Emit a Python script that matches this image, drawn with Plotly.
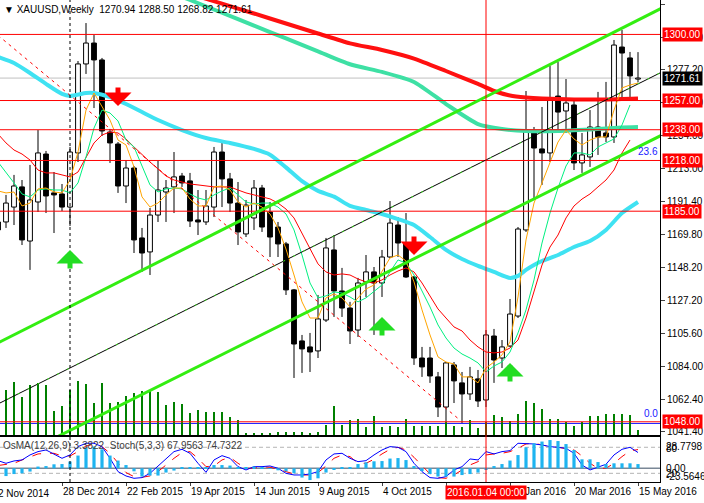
import pandas as pd
import plotly.graph_objects as go

FONT = "Liberation Sans, Arial, sans-serif"

# weekly bars, dated on Sunday like the terminal does
weeks = pd.date_range("2014-11-02", "2016-05-15", freq="7D")
WEEK_MS = 7 * 24 * 3600 * 1000

opens = [1178.0, 1178.0, 1187.7, 1200.8, 1165.6, 1191.0, 1222.2, 1196.9,
         1196.2, 1187.7, 1222.9, 1280.8, 1294.4, 1283.4, 1236.5, 1228.7, 1201.4, 1213.1,
         1167.6, 1158.5, 1182.5, 1197.5, 1200.8, 1207.9, 1204.7, 1179.3, 1178.0, 1187.7,
         1223.5, 1206.0, 1190.3, 1170.2, 1180.6, 1200.1, 1184.5, 1174.7, 1163.7, 1133.8,
         1100.6, 1096.7, 1094.1, 1114.2, 1159.8, 1133.1, 1122.0, 1107.7, 1139.0, 1145.5,
         1138.3, 1155.2, 1176.0, 1164.3, 1142.2, 1089.5, 1089.5, 1077.2, 1057.6, 1085.0,
         1073.3, 1066.1, 1075.9, 1062.2, 1103.8, 1089.5, 1097.3, 1116.8, 1172.8, 1235.9,
         1225.5, 1222.9, 1259.9, 1250.2, 1254.1, 1216.4, 1220.3, 1239.8, 1235.9, 1233.3,
         1291.8, 1284.7, 1270.94]
highs = [1180.6, 1195.6, 1208.6, 1205.3, 1215.1, 1237.8, 1224.2, 1210.5,
         1202.7, 1226.8, 1282.7, 1307.4, 1299.6, 1284.7, 1238.5, 1230.0, 1218.3, 1214.4,
         1174.1, 1187.1, 1218.3, 1205.3, 1223.5, 1209.9, 1209.9, 1198.8, 1198.8, 1226.8,
         1230.0, 1209.9, 1204.0, 1192.3, 1205.3, 1202.1, 1191.0, 1178.0, 1165.0, 1134.4,
         1104.5, 1105.8, 1130.5, 1167.6, 1169.5, 1148.1, 1126.0, 1141.6, 1156.5, 1148.7,
         1159.8, 1191.6, 1181.2, 1183.8, 1142.9, 1096.7, 1096.7, 1080.4, 1086.9, 1086.9,
         1080.4, 1083.7, 1081.7, 1107.7, 1108.4, 1101.2, 1127.9, 1174.7, 1263.2, 1239.8,
         1252.8, 1279.5, 1282.1, 1271.0, 1258.0, 1235.9, 1250.8, 1262.6, 1269.1, 1296.4,
         1302.9, 1288.6, 1288.50]
lows = [1171.5, 1174.1, 1176.0, 1163.0, 1146.8, 1184.5, 1183.8, 1170.8,
        1185.1, 1175.4, 1217.0, 1274.3, 1252.1, 1233.9, 1216.4, 1196.9, 1190.3, 1157.8,
        1145.5, 1143.5, 1178.0, 1178.0, 1183.8, 1200.8, 1174.7, 1169.5, 1176.0, 1181.2,
        1187.7, 1184.5, 1163.0, 1168.2, 1172.8, 1171.5, 1155.2, 1155.2, 1130.5, 1076.5,
        1079.8, 1080.4, 1089.5, 1112.9, 1116.2, 1116.2, 1098.6, 1103.2, 1129.2, 1104.5,
        1129.2, 1154.6, 1155.2, 1141.6, 1085.0, 1077.2, 1073.3, 1051.1, 1047.2, 1060.2,
        1047.2, 1062.2, 1057.6, 1057.6, 1073.3, 1083.0, 1096.7, 1115.5, 1171.5, 1192.3,
        1202.1, 1217.0, 1235.9, 1235.9, 1211.8, 1209.9, 1213.8, 1221.6, 1230.0, 1229.4,
        1257.4, 1257.4, 1268.82]
closes = [1172.8, 1190.3, 1201.4, 1166.3, 1192.3, 1222.9, 1194.9, 1195.6,
          1187.7, 1223.5, 1280.8, 1294.4, 1283.4, 1237.2, 1229.4, 1201.4, 1213.1, 1166.3,
          1157.8, 1182.5, 1198.8, 1200.1, 1207.3, 1203.4, 1178.6, 1178.0, 1188.4, 1223.5,
          1206.0, 1190.3, 1171.5, 1189.0, 1200.1, 1174.7, 1168.2, 1163.7, 1133.8, 1098.6,
          1095.4, 1093.4, 1114.9, 1161.1, 1133.1, 1122.0, 1107.1, 1138.3, 1145.5, 1138.3,
          1155.2, 1177.3, 1164.3, 1142.2, 1089.5, 1083.7, 1077.8, 1057.6, 1086.3, 1074.6,
          1066.1, 1077.2, 1061.5, 1104.5, 1088.2, 1096.7, 1118.1, 1173.4, 1237.8, 1226.1,
          1222.9, 1257.4, 1249.5, 1255.4, 1216.4, 1221.6, 1239.8, 1233.3, 1233.3, 1293.1,
          1287.9, 1273.0, 1271.61]
# tick volume
volumes = [4000, 4500, 5300, 3800, 5000, 5200, 5000, 2400,
           2900, 4500, 5400, 5100, 3200, 5200, 3200, 3300, 3900, 4200,
           4400, 4500, 4300, 3000, 3300, 3100, 2200, 2500, 2300, 2300,
           2300, 1800, 1500, 200, 200, 200, 200, 300, 300, 300,
           300, 200, 300, 1000, 2900, 1000, 1500, 1600, 800, 1900,
           800, 900, 800, 1600, 900, 900, 900, 900, 1300, 900,
           800, 1500, 700, 1300, 2000, 1800, 1400, 2100, 3400, 3200,
           2600, 1600, 1600, 1300, 900, 1300, 1900, 1900, 2100, 2100,
           2100, 2000, 500]

# short moving averages, one value per week
ma_orange = [1198.2, 1196.9, 1197.5, 1188.4, 1190.3, 1199.5, 1200.1, 1197.5,
             1196.9, 1205.3, 1223.5, 1250.8, 1261.9, 1252.8, 1244.3, 1231.3, 1228.1, 1213.8,
             1194.3, 1187.7, 1190.3, 1195.6, 1200.1, 1200.1, 1192.9, 1188.4, 1188.4, 1200.8,
             1201.4, 1198.8, 1191.0, 1187.7, 1190.3, 1187.7, 1183.2, 1174.1, 1160.4, 1143.5,
             1126.0, 1115.5, 1115.5, 1128.6, 1131.2, 1128.6, 1122.7, 1128.6, 1134.4, 1137.0,
             1146.1, 1154.6, 1156.5, 1152.6, 1139.0, 1120.8, 1104.5, 1090.2, 1086.9, 1085.6,
             1077.2, 1077.2, 1073.3, 1083.0, 1086.9, 1091.5, 1099.9, 1129.2, 1166.3, 1190.3,
             1203.4, 1216.4, 1230.0, 1237.8, 1232.0, 1228.1, 1231.3, 1233.3, 1233.3, 1250.8,
             1265.2, 1267.1, 1268.4]
ma_green = [1217.0, 1210.5, 1203.4, 1196.2, 1194.3, 1198.8, 1199.5, 1198.8,
            1198.8, 1196.9, 1203.4, 1220.3, 1239.1, 1250.8, 1248.9, 1243.7, 1231.3, 1226.8,
            1213.8, 1202.1, 1197.5, 1199.5, 1200.1, 1199.5, 1196.2, 1193.6, 1192.3, 1195.6,
            1198.2, 1200.1, 1195.6, 1191.0, 1189.7, 1190.3, 1190.3, 1187.7, 1183.2, 1172.8,
            1156.5, 1138.3, 1128.6, 1129.9, 1132.5, 1131.8, 1129.2, 1126.0, 1128.6, 1133.1,
            1137.0, 1145.5, 1153.3, 1151.3, 1143.5, 1133.1, 1122.7, 1111.0, 1102.5, 1096.0,
            1092.1, 1089.5, 1086.3, 1080.4, 1084.3, 1086.9, 1093.4, 1105.8, 1120.8, 1140.3,
            1164.3, 1183.8, 1200.1, 1214.4, 1222.9, 1222.9, 1221.6, 1226.8, 1229.4, 1232.0,
            1241.1, 1254.1, None]
ma_red = [1235.2, 1229.4, 1224.8, 1222.2, 1218.3, 1211.8, 1209.9, 1209.9,
          1208.6, 1207.3, 1210.5, 1219.6, 1229.4, 1234.6, 1236.5, 1235.9, 1232.0, 1226.8,
          1221.6, 1217.0, 1212.5, 1207.9, 1205.3, 1204.0, 1202.7, 1202.1, 1201.4, 1200.8,
          1200.8, 1200.8, 1198.8, 1196.9, 1195.6, 1194.3, 1193.0, 1190.3, 1186.4, 1180.6,
          1170.8, 1161.1, 1150.7, 1145.5, 1143.5, 1144.2, 1143.5, 1140.9, 1139.0, 1138.3,
          1140.3, 1143.5, 1146.1, 1148.1, 1145.5, 1138.3, 1129.9, 1121.4, 1115.5, 1109.7,
          1107.1, 1101.2, 1096.7, 1093.4, 1092.8, 1093.4, 1096.0, 1101.2, 1115.5, 1133.1,
          1150.0, 1161.7, 1169.5, 1180.6, 1188.4, 1192.9, 1196.2, 1200.8, 1205.3, 1211.8,
          1222.9, 1231.3, None]

# long moving averages, read at some weeks (week number counted from 28 Dec 2014)
ma_cyan_wk = [-8, -6, -4, -2, 0, 1, 3, 4, 6, 8, 10, 12, 15, 18, 21, 24, 26, 28, 30, 32, 34,
              36, 38, 40, 42, 44, 46, 48, 50, 52, 54, 56, 57, 58, 59, 60, 62, 64, 66, 68, 70, 72]
ma_cyan = [1285.3, 1281.4, 1274.9, 1267.8, 1261.3, 1260.0, 1261.9, 1261.9, 1259.3, 1254.7,
           1249.5, 1244.3, 1237.8, 1232.6, 1229.4, 1225.5, 1221.8, 1213.5, 1204.5, 1198.2,
           1194.5, 1188.4, 1185.8, 1183.2, 1179.9, 1176.0, 1168.2, 1159.8, 1153.9, 1149.4,
           1145.5, 1141.6, 1142.9, 1146.8, 1150.0, 1152.6, 1156.5, 1161.7, 1165.6, 1172.8,
           1183.8, 1191.0]
ma_aqua_wk = [14, 16, 20, 24, 28, 32, 36, 40, 44, 48, 52, 55, 58, 62, 66, 70, 72]
ma_aqua = [1326.6, 1322.4, 1314.1, 1305.7, 1297.4, 1289.0, 1280.6, 1275.6, 1269.1,
           1254.7, 1241.7, 1238.5, 1237.2, 1237.2, 1238.2, 1239.5, 1239.8]
ma_thick_red_wk = [16, 20, 24, 28, 32, 36, 40, 44, 48, 52, 54, 56, 58, 60, 64, 68, 72]
ma_thick_red = [1326.4, 1320.0, 1313.6, 1307.1, 1300.6, 1294.2, 1289.9, 1284.3, 1276.2,
                1267.8, 1263.2, 1260.3, 1259.0, 1258.3, 1257.7, 1257.7, 1258.3]

osma = [-5.0, -6.2, -4.6, -4.0, -2.6, 1.4, 1.8, 3.2,
        3.4, 5.4, 10.2, 16.6, 17.4, 15.2, 10.2, 6.2, 2.6, -2.4,
        -6.6, -5.8, -5.8, -3.4, -1.8, 0.3, 0.8, 0.5, 1.0, 2.6,
        2.6, 2.2, 0.4, 1.0, 1.4, 0.6, -0.5, -1.6, -2.4, -4.0,
        -7.4, -9.4, -8.0, -3.4, -1.2, 0.6, 1.0, 3.4, 4.8, 5.6,
        5.8, 7.8, 8.2, 6.6, 1.8, -2.2, -4.6, -6.6, -6.6, -6.6,
        -5.4, -4.6, -3.4, -1.0, 1.8, 3.4, 6.2, 10.6, 16.8, 20.0,
        21.4, 22.6, 21.8, 19.4, 14.6, 7.2, 7.2, 5.0, 3.4, 4.0,
        4.0, 4.0, 3.38]
stoch_main = [49.2, 43.1, 48.5, 50.8, 62.3, 70.0, 73.8, 64.6,
              54.6, 62.3, 81.5, 89.2, 89.2, 81.5, 54.6, 23.9, 13.9, 8.5,
              10.1, 20.0, 36.9, 54.6, 70.0, 75.3, 66.1, 43.1, 22.3, 50.8,
              60.7, 54.6, 35.4, 27.7, 35.4, 35.4, 36.9, 31.6, 20.0, 16.2,
              16.2, 18.5, 23.9, 50.8, 64.6, 66.1, 54.6, 46.9, 49.2, 62.3,
              73.8, 81.5, 79.9, 70.0, 43.1, 23.9, 10.1, 8.5, 12.4, 27.7,
              35.4, 53.1, 50.8, 70.0, 64.6, 70.0, 72.3, 89.2, 89.2, 87.6,
              85.3, 81.5, 79.9, 77.6, 66.1, 39.2, 27.7, 33.9, 40.8, 62.3,
              75.3, 79.9, 67.96]
stoch_signal = [38.0, 40.8, 43.1, 50.8, 56.9, 64.6, 66.1, 66.1,
                60.0, 60.0, 70.0, 83.0, 86.9, 81.5, 66.1, 43.1, 21.6, 12.4,
                10.8, 13.9, 23.9, 39.2, 54.6, 67.7, 70.0, 54.6, 35.4, 36.9,
                50.8, 56.9, 43.1, 31.6, 31.6, 35.4, 33.9, 29.3, 23.9, 18.5,
                16.2, 16.2, 21.6, 36.9, 54.6, 62.3, 58.5, 43.1, 43.1, 52.3,
                64.6, 75.3, 79.9, 73.8, 56.9, 36.9, 18.5, 10.1, 8.5, 16.2,
                27.7, 39.2, 46.9, 62.3, 64.6, 66.1, 70.0, 77.6, 87.6, 89.2,
                85.3, 81.5, 79.9, 77.6, 73.8, 60.0, 43.1, 31.6, 31.6, 43.1,
                58.5, 71.5, 74.73]

levels = [1300.0, 1257.0, 1238.0, 1218.0, 1185.0, 1048.0]
fib_zero = 1046.9
last_price = 1271.61
price_ticks = [1041.40, 1062.40, 1084.00, 1105.60, 1127.20, 1148.20, 1169.80,
               1191.40, 1213.00, 1234.00, 1255.60, 1277.20, 1298.20, 1319.80]

# drawn objects: (date, price) end points
channel_upper = [("2014-11-02", 1099.3), ("2016-06-05", 1317.2)]
channel_mid = [("2014-11-02", 1059.6), ("2016-06-05", 1275.6)]
channel_lower = [("2014-11-02", 1019.0), ("2016-06-05", 1234.6)]
red_dash_line = [("2014-11-02", 1299.4), ("2015-12-09", 1050.5)]
up_arrows = [(1, 1159.8), (40, 1116.2), (56, 1086.3)]
down_arrows = [(7, 1253.4), (44, 1156.5)]
dashed_vline_wk = 1
red_vline_wk = 53


def wk(k):
    return weeks[k + 8]


x_range = [weeks[0] + pd.Timedelta(hours=42), weeks[-1] + pd.Timedelta(hours=462)]

fig = go.Figure()

# candle wicks (only outside the bodies) and bodies
wx, wy = [], []
for d, o, h, l, c in zip(weeks, opens, highs, lows, closes):
    wx += [d, d, None, d, d, None]
    wy += [h, max(o, c), None, min(o, c), l, None]
fig.add_trace(go.Scatter(x=wx, y=wy, mode="lines", line=dict(color="black", width=1),
                         hoverinfo="skip"))
fig.add_trace(go.Bar(x=weeks, y=[c - o for o, c in zip(opens, closes)], base=opens,
                     width=0.6 * WEEK_MS,
                     marker=dict(color=["white" if c >= o else "black" for o, c in zip(opens, closes)],
                                 line=dict(color="black", width=1))))

# long averages
for wks, vals, col in [(ma_cyan_wk, ma_cyan, "#3fe2f2"),
                       (ma_aqua_wk, ma_aqua, "#3ee0a4"),
                       (ma_thick_red_wk, ma_thick_red, "#ff1010")]:
    fig.add_trace(go.Scatter(x=[wk(k) for k in wks], y=vals, mode="lines",
                             line=dict(color=col, width=4, shape="spline", smoothing=0.6)))

# short averages
for vals, col in [(ma_red, "#ff0000"), (ma_green, "#00f080"), (ma_orange, "#ffa500")]:
    fig.add_trace(go.Scatter(x=weeks, y=vals, mode="lines", line=dict(color=col, width=1)))

# volume at the bottom of the price window
fig.add_trace(go.Bar(x=weeks, y=volumes, width=0.14 * WEEK_MS, marker=dict(color="#008000", line_width=0),
                     xaxis="x", yaxis="y3"))

# OsMA + Stochastic window
fig.add_trace(go.Bar(x=weeks, y=osma, width=0.4 * WEEK_MS, marker=dict(color="#1eb4f0", line_width=0),
                     xaxis="x2", yaxis="y4"))
fig.add_trace(go.Scatter(x=weeks, y=stoch_signal, mode="lines", line=dict(color="#ff0000", width=1, dash="dash"),
                         xaxis="x2", yaxis="y2"))
fig.add_trace(go.Scatter(x=weeks, y=stoch_main, mode="lines", line=dict(color="#0000ff", width=1),
                         xaxis="x2", yaxis="y2"))

shapes = []
for lv in levels:
    shapes.append(dict(type="line", xref="paper", yref="y", x0=0, x1=1, y0=lv, y1=lv,
                       line=dict(color="#ff0000", width=1)))
shapes.append(dict(type="line", xref="paper", yref="y", x0=0, x1=1, y0=fib_zero, y1=fib_zero,
                   line=dict(color="#2020ff", width=1), layer="below"))
shapes.append(dict(type="line", xref="paper", yref="y", x0=0, x1=1, y0=last_price, y1=last_price,
                   line=dict(color="#c0c0c0", width=1), layer="below"))
for pts, col, w, dash in [(channel_upper, "#33ee11", 3, "solid"),
                          (channel_lower, "#33ee11", 3, "solid"),
                          (channel_mid, "black", 1, "solid"),
                          (channel_mid, "#33ee11", 1, "2px,9px"),
                          (red_dash_line, "#ff0000", 1, "3px,4px")]:
    shapes.append(dict(type="line", xref="x", yref="y", x0=pts[0][0], y0=pts[0][1],
                       x1=pts[1][0], y1=pts[1][1], line=dict(color=col, width=w, dash=dash)))
shapes.append(dict(type="line", xref="x", yref="paper", x0=wk(dashed_vline_wk), x1=wk(dashed_vline_wk),
                   y0=0, y1=1, line=dict(color="black", width=1, dash="3px,3px")))
shapes.append(dict(type="line", xref="x", yref="paper", x0=wk(red_vline_wk), x1=wk(red_vline_wk),
                   y0=0, y1=1, line=dict(color="#ff0000", width=1)))
# stochastic levels and OsMA zero line
for lv in (80, 20):
    shapes.append(dict(type="line", xref="paper", yref="y2", x0=0, x1=1, y0=lv, y1=lv,
                       line=dict(color="#b4b4b4", width=1, dash="4px,3px"), layer="below"))
shapes.append(dict(type="line", xref="paper", yref="y4", x0=0, x1=1, y0=0, y1=0,
                   line=dict(color="#7a8796", width=1.5), layer="below"))

ann = []
for lv in levels:
    ann.append(dict(xref="paper", yref="y", x=1, y=lv, xanchor="left", yanchor="middle", xshift=2,
                    text=f"{lv:.2f}", showarrow=False, bgcolor="#ff0000", borderpad=1,
                    font=dict(color="white", size=10)))
ann.append(dict(xref="paper", yref="y", x=1, y=last_price, xanchor="left", yanchor="middle", xshift=2,
                text=f"{last_price:.2f}", showarrow=False, bgcolor="black", borderpad=1,
                font=dict(color="white", size=10)))
ann.append(dict(xref="paper", yref="y", x=1, y=1218.0, xanchor="right", yanchor="bottom", yshift=1,
                text="23.6", showarrow=False, font=dict(color="#2020ff", size=10)))
ann.append(dict(xref="paper", yref="y", x=1, y=1048.0, xanchor="right", yanchor="bottom", yshift=1,
                text="0.0", showarrow=False, font=dict(color="#2020ff", size=10)))
ann.append(dict(xref="paper", yref="paper", x=0, y=1, xanchor="left", yanchor="top", xshift=2, yshift=-2,
                text="\u25BC XAUUSD,Weekly \u00a0" + " ".join(f"{v:.2f}" for v in
                                                         (opens[-1], highs[-1], lows[-1], closes[-1])),
                showarrow=False, font=dict(size=10)))
ann.append(dict(xref="paper", yref="y2", x=0, y=83, xanchor="left", yanchor="middle", xshift=1,
                text="OsMA(12,26,9) 3.3822 \u00a0Stoch(5,3,3) 67.9563 74.7322",
                showarrow=False, font=dict(size=10, color="#404040")))
for txt, yv in [("28.7798", 81), ("80", 78), ("-23.5646", 12), ("20", 20)]:
    ann.append(dict(xref="paper", yref="y2", x=1, y=yv, xanchor="left", yanchor="middle", xshift=4,
                    text=txt, showarrow=False, font=dict(size=10)))
ann.append(dict(xref="paper", yref="y4", x=1, y=0, xanchor="left", yanchor="middle", xshift=4,
                text="0.00", showarrow=False, font=dict(size=10)))
# first date label sits just left of the visible range and is cut by the window edge
ann.append(dict(xref="paper", yref="paper", x=0, y=0, xanchor="left", yanchor="top", yshift=-4,
                xshift=-4, text=weeks[0].strftime("%-d %b %Y"), showarrow=False, font=dict(size=10)))
ann.append(dict(xref="x", yref="paper", x=wk(red_vline_wk), y=0, xanchor="center", yanchor="top", yshift=-3,
                text="2016.01.04 00:00", showarrow=False, bgcolor="#ff0000", borderpad=1,
                font=dict(color="white", size=10)))
for k, p in up_arrows:
    ann.append(dict(xref="x", yref="y", x=wk(k), y=p, ax=0, ay=20, text="", showarrow=True,
                    arrowhead=1, arrowsize=0.9, arrowwidth=5, arrowcolor="#22dd22", standoff=0))
for k, p in down_arrows:
    ann.append(dict(xref="x", yref="y", x=wk(k), y=p, ax=0, ay=-20, text="", showarrow=True,
                    arrowhead=1, arrowsize=0.9, arrowwidth=5, arrowcolor="#ff0000", standoff=0))

fig.update_layout(
    width=704, height=503, margin=dict(l=0, r=44, t=0, b=21),
    paper_bgcolor="white", plot_bgcolor="white", showlegend=False, barmode="overlay",
    font=dict(family=FONT, size=10, color="black"),
    shapes=shapes, annotations=ann,
    xaxis=dict(type="date", range=x_range, domain=[0, 1], anchor="y", showticklabels=False, ticks="",
               showgrid=False, zeroline=False, showline=True, linecolor="black"),
    xaxis2=dict(type="date", range=x_range, matches="x", anchor="y2", domain=[0, 1],
                tickvals=list(weeks[::8]), tickformat="%-d %b %Y", ticklabelposition="outside right",
                tickangle=0, ticks="outside", ticklen=3, showgrid=False, zeroline=False,
                showline=True, mirror=True, linecolor="black"),
    yaxis=dict(domain=[0.0975, 1], range=[1039.4, 1322.4], side="right", tickvals=price_ticks,
               ticktext=[f"{v:.2f}" for v in price_ticks], ticks="outside", ticklen=4,
               showgrid=False, zeroline=False, showline=True, linecolor="black"),
    yaxis3=dict(overlaying="y", anchor="x", range=[0, 43500], visible=False),
    yaxis2=dict(domain=[0, 0.0934], range=[0, 103.7], side="right", showticklabels=False, ticks="",
                showgrid=False, zeroline=False, showline=True, linecolor="black"),
    yaxis4=dict(overlaying="y2", anchor="x2", range=[-10.95, 25.05], visible=False),
)

fig.write_html("out.html", config={"displayModeBar": False},
               post_script="document.body.style.margin='0px';")
